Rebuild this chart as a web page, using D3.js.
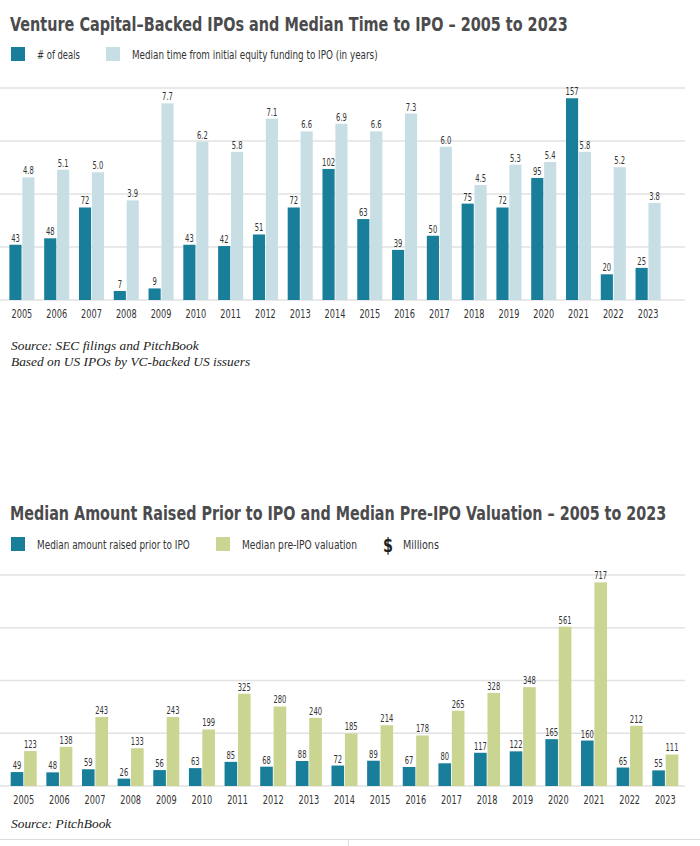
<!DOCTYPE html>
<html>
<head>
<meta charset="utf-8">
<script src="https://cdn.jsdelivr.net/npm/d3@7"></script>
<style>
  html, body { margin: 0; padding: 0; background: #ffffff; }
  svg { display: block; }
  .cond { font-family: "DejaVu Sans Condensed", "Liberation Sans Narrow", "Roboto Condensed", sans-serif; }
  .serif { font-family: "Liberation Serif", "DejaVu Serif", serif; font-style: italic; }
</style>
</head>
<body>
<script>
// ---------- DATA ----------
const years = ["2005","2006","2007","2008","2009","2010","2011","2012","2013","2014","2015","2016","2017","2018","2019","2020","2021","2022","2023"];
const deals = [43,48,72,7,9,43,42,51,72,102,63,39,50,75,72,95,157,20,25];
const medianTime = [4.8,5.1,5.0,3.9,7.7,6.2,5.8,7.1,6.6,6.9,6.6,7.3,6.0,4.5,5.3,5.4,5.8,5.2,3.8];
const amountRaised = [49,48,59,26,56,63,85,68,88,72,89,67,80,117,122,165,160,65,55];
const preValuation = [123,138,243,133,243,199,325,280,240,185,214,178,265,328,348,561,717,212,111];

const title1 = "Venture Capital\u2013Backed IPOs and Median Time to IPO \u2013 2005 to 2023";
const title2 = "Median Amount Raised Prior to IPO and Median Pre-IPO Valuation \u2013 2005 to 2023";
const legend1 = ["# of deals", "Median time from initial equity funding to IPO (in years)"];
const legend2 = ["Median amount raised prior to IPO", "Median pre-IPO valuation"];
const unitLabel = "Millions";
const source1 = ["Source: SEC filings and PitchBook", "Based on US IPOs by VC-backed US issuers"];
const source2 = ["Source: PitchBook"];

// ---------- STYLE ----------
const C_TEAL = "#187e99";
const C_LIGHT = "#c8dee5";
const C_GREEN = "#c9d590";
const C_GRID = "#e2e2e2";
const C_TITLE = "#4b4b4d";
const C_TEXT = "#333333";

const W = 700, H = 846;
const svg = d3.select("body").append("svg").attr("width", W).attr("height", H);

// place a text at (x,y) horizontally squeezed by factor s
function placeSqueezed(sel, x, y, s) {
  sel.attr("x", 0).attr("y", 0).attr("transform", `translate(${x},${y}) scale(${s},1)`);
}
// squeeze a text so that its width becomes w
function fitTo(sel, x, y, w) {
  const w0 = sel.node().getComputedTextLength();
  placeSqueezed(sel, x, y, w / w0);
}

function drawChart(opts) {
  const g = svg.append("g");
  const t = g.append("text").attr("class", "cond")
    .attr("font-size", 19.5).attr("font-weight", "bold").attr("fill", C_TITLE)
    .text(opts.title);
  fitTo(t, 10, opts.titleY, opts.titleW);

  opts.legend.forEach((lg) => {
    g.append("rect").attr("x", lg.sx).attr("y", opts.legendY).attr("width", 14).attr("height", 14).attr("fill", lg.color);
    const lt = g.append("text").attr("class", "cond")
      .attr("font-size", 12).attr("fill", C_TEXT).text(lg.label);
    fitTo(lt, lg.tx, opts.legendY + 11.5, lg.tw);
  });

  const x0 = d3.scaleBand().domain(years).range(opts.xRange)
    .paddingInner(opts.padInner).paddingOuter(opts.padOuter);
  const x1 = d3.scaleBand().domain([0, 1]).range([0, x0.bandwidth()]).paddingInner(0.06);

  const yA = d3.scaleLinear().domain([0, opts.maxA]).range([opts.base, opts.top]);
  const yB = d3.scaleLinear().domain([0, opts.maxB]).range([opts.base, opts.top]);

  const gridScale = d3.scaleLinear().domain([0, 4]).range([opts.base, opts.top]);
  g.append("g").selectAll("line").data(d3.range(0, 5)).join("line")
    .attr("x1", 0).attr("x2", 685)
    .attr("y1", d => gridScale(d)).attr("y2", d => gridScale(d))
    .attr("stroke", C_GRID).attr("stroke-width", 1.5);

  const groups = g.append("g").selectAll("g").data(years).join("g")
    .attr("transform", d => `translate(${x0(d)},0)`);

  const series = [
    { vals: opts.a, y: yA, color: opts.colorA, fmt: opts.fmtA },
    { vals: opts.b, y: yB, color: opts.colorB, fmt: opts.fmtB }
  ];
  series.forEach((s, si) => {
    groups.append("rect")
      .attr("x", x1(si)).attr("width", x1.bandwidth())
      .attr("y", (d, i) => s.y(s.vals[i]))
      .attr("height", (d, i) => opts.base - s.y(s.vals[i]))
      .attr("fill", s.color);
    groups.append("text").attr("class", "cond")
      .attr("text-anchor", "middle").attr("font-size", 10.8).attr("fill", C_TEXT)
      .text((d, i) => s.fmt(s.vals[i]))
      .each(function(d, i) {
        placeSqueezed(d3.select(this), x1(si) + x1.bandwidth() / 2, s.y(s.vals[i]) - 3, 0.7);
      });
  });

  const axis = d3.axisBottom(x0).tickSize(0).tickPadding(0);
  const ax = g.append("g").attr("transform", `translate(0,${opts.base})`).call(axis);
  ax.select(".domain").remove();
  ax.selectAll(".tick text").attr("class", "cond").attr("font-family", null)
    .attr("font-size", 12.3).attr("fill", C_TEXT).attr("dy", null)
    .each(function() { placeSqueezed(d3.select(this), 0, 18, 0.74); });

  opts.source.forEach((s, i) => {
    g.append("text").attr("class", "serif").attr("x", 11).attr("y", opts.sourceY + i * 15.5)
      .attr("font-size", 13.4).attr("fill", "#222").text(s);
  });
  return g;
}

drawChart({
  title: title1, titleY: 31, titleW: 558,
  legendY: 47,
  legend: [
    { label: legend1[0], color: C_TEAL, sx: 11, tx: 37, tw: 43 },
    { label: legend1[1], color: C_LIGHT, sx: 106, tx: 132, tw: 246 }
  ],
  xRange: [0, 670], padInner: 0.28, padOuter: 0.27,
  base: 300, top: 88,
  maxA: 165, maxB: 8.3,
  a: deals, b: medianTime, colorA: C_TEAL, colorB: C_LIGHT,
  fmtA: d3.format("d"), fmtB: d3.format(".1f"),
  source: source1, sourceY: 350
});

const g2 = drawChart({
  title: title2, titleY: 520, titleW: 657,
  legendY: 537,
  legend: [
    { label: legend2[0], color: C_TEAL, sx: 11, tx: 37, tw: 153 },
    { label: legend2[1], color: C_GREEN, sx: 216, tx: 242, tw: 115 }
  ],
  xRange: [0, 689], padInner: 0.27, padOuter: 0.3,
  base: 786, top: 575,
  maxA: 743, maxB: 743,
  a: amountRaised, b: preValuation, colorA: C_TEAL, colorB: C_GREEN,
  fmtA: d3.format("d"), fmtB: d3.format("d"),
  source: source2, sourceY: 828
});

const dollar = g2.append("text").attr("class", "cond")
  .attr("font-size", 19).attr("font-weight", "bold").attr("fill", "#222").text("$");
fitTo(dollar, 383, 552, 10);
const ml = g2.append("text").attr("class", "cond")
  .attr("font-size", 12).attr("fill", C_TEXT).text(unitLabel);
fitTo(ml, 403, 548.5, 36);

svg.append("line").attr("x1", 0).attr("x2", 700).attr("y1", 839.5).attr("y2", 839.5)
  .attr("stroke", "#dddddd").attr("stroke-width", 1);
svg.append("line").attr("x1", 348.5).attr("x2", 348.5).attr("y1", 840).attr("y2", 846)
  .attr("stroke", "#dddddd").attr("stroke-width", 1);
</script>
</body>
</html>
